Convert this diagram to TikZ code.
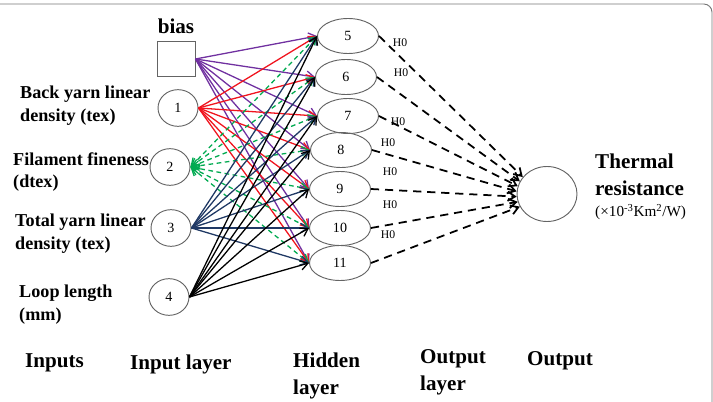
\documentclass[tikz,border=0pt]{standalone}
\usepackage{fontspec}
\setmainfont{Liberation Serif}
\usetikzlibrary{shapes.geometric, arrows.meta, positioning}
\definecolor{wtpurple}{RGB}{112,48,160}
\definecolor{wtred}{RGB}{240,20,30}
\definecolor{wtgreen}{RGB}{0,170,80}
\definecolor{wtnavy}{RGB}{31,56,100}
\definecolor{edgegray}{RGB}{100,100,100}
\definecolor{framegray}{RGB}{120,120,120}
\tikzset{
    innode/.style={ellipse, draw=edgegray, minimum width=1.2cm, minimum height=1.1cm, inner sep=0pt, font=\fontsize{12}{14}\selectfont, line width=0.8pt},
    hidnode/.style={ellipse, draw=edgegray, minimum width=1.83cm, minimum height=1.05cm, inner sep=0pt, font=\fontsize{12}{14}\selectfont, line width=0.8pt},
    outnode/.style={ellipse, draw=edgegray, minimum width=1.8cm, minimum height=1.65cm, line width=0.8pt},
    biasbox/.style={rectangle, draw=edgegray, minimum width=1.14cm, minimum height=1.05cm, line width=0.8pt},
    wtarrow/.style={-{Straight Barb[length=2.2mm, width=2.8mm]}, line width=1.1pt, draw=#1},
    wtdarrow/.style={{Straight Barb[length=2.2mm, width=2.8mm]}-{Straight Barb[length=2.2mm, width=2.8mm]}, line width=1.1pt, draw=#1, dash pattern=on 4pt off 3pt},
    hoarrow/.style={-{Straight Barb[length=2.2mm, width=2.8mm]}, line width=1.5pt, dash pattern=on 7pt off 5pt},
    featlab/.style={font=\bfseries\fontsize{15.5}{19.5}\selectfont, align=left, anchor=west, inner sep=0pt},
    layerlab/.style={font=\bfseries\fontsize{18}{23}\selectfont, align=left, anchor=west, inner sep=0pt},
    holab/.style={font=\fontsize{10}{11}\selectfont, inner sep=0pt}
}

\begin{document}
\begin{tikzpicture}[x=0.03cm, y=-0.03cm]
\useasboundingbox (0,0) rectangle (713,402);
\draw[framegray, line width=0.8pt, rounded corners=7pt] (0,4) -| (712,402);

% input layer
\node[biasbox] (b) at (176,59) {};
\node[font=\bfseries\fontsize{18}{22}\selectfont] (blab) at (176,26) {bias};
\node[innode] (i1) at (178,108) {1};
\node[innode] (i2) at (170,167) {2};
\node[innode] (i3) at (171,228) {3};
\node[innode] (i4) at (169,297) {4};

% hidden layer
\node[hidnode] (h5) at (348,36) {5};
\node[hidnode] (h6) at (346,77) {6};
\node[hidnode] (h7) at (348,116) {7};
\node[hidnode] (h8) at (341,150) {8};
\node[hidnode] (h9) at (340,189) {9};
\node[hidnode] (h10) at (340,228) {10};
\node[hidnode] (h11) at (340,263) {11};

% output
\node[outnode] (o) at (547,194) {};

% weights
\foreach \h in {5,...,11}
    \draw[wtarrow=wtpurple] (b.east) -- (h\h.west);
\foreach \h in {5,...,11}
    \draw[wtarrow=wtred] (i1.east) -- (h\h.west);
\foreach \h in {5,...,11}
    \draw[wtdarrow=wtgreen] (i2.east) -- (h\h.west);
\foreach \h in {5,...,11}
    \draw[wtarrow=wtnavy] (i3.east) -- (h\h.west);
\foreach \h in {5,...,11}
    \draw[wtarrow=black] (i4.east) -- (h\h.west);

\foreach \h/\a in {5/145,6/155,7/165,8/175,9/185,10/195,11/205}
    \draw[hoarrow] (h\h.east) -- (o.\a);

\node[holab] (l5) at (400,43) {H0};
\node[holab] (l6) at (401,73) {H0};
\node[holab] (l7) at (398,122) {H0};
\node[holab] (l8) at (388,143) {H0};
\node[holab] (l9) at (390,172) {H0};
\node[holab] (l10) at (390,205) {H0};
\node[holab] (l11) at (388,235) {H0};

% labels
\node[featlab] (f1) at (20,106) {Back yarn linear\\density (tex)};
\node[featlab] (f2) at (13,172) {Filament fineness\\(dtex)};
\node[featlab] (f3) at (15,234) {Total yarn linear\\density (tex)};
\node[featlab] (f4) at (19,305) {Loop length\\(mm)};

\node[layerlab] (therm) at (595,175) {Thermal\\resistance};
\node[anchor=west, inner sep=0pt, font=\fontsize{13}{15}\selectfont] (unit) at (595,212) {(×10\textsuperscript{-3}Km\textsuperscript{2}/W)};

\node[layerlab] (linp) at (25,363) {Inputs};
\node[layerlab] (lin) at (130,364) {Input layer};
\node[layerlab] (lhid) at (293,376) {Hidden\\layer};
\node[layerlab] (lhout) at (420,372) {Output\\layer};
\node[layerlab] (lout) at (527,361) {Output};
\end{tikzpicture}
\end{document}
